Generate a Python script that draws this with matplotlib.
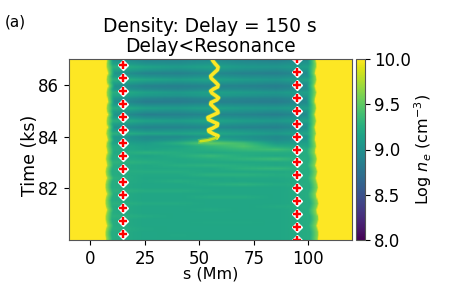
import numpy as np
import matplotlib
matplotlib.use("Agg")
import matplotlib.pyplot as plt

TITLE = "Density: Delay = 150 s\nDelay<Resonance"
XLABEL = "s (Mm)"
YLABEL = "Time (ks)"
CBAR_LABEL = r"Log $n_e$ (cm$^{-3}$)"
PANEL = "(a)"

column_s = [12, 25, 40, 55, 70, 85, 95]
row_time = [87 - 0.125 * i for i in range(57)]
density = [
    [9.05, 8.92, 8.92, 8.98, 8.92, 8.88, 8.98],
    [9.15, 9.02, 9.00, 9.06, 9.00, 8.98, 9.06],
    [9.28, 9.16, 9.10, 9.16, 9.08, 9.05, 9.14],
    [9.18, 9.06, 9.00, 9.06, 9.00, 8.96, 9.06],
    [9.04, 8.90, 8.88, 8.94, 8.88, 8.86, 8.96],
    [9.14, 9.02, 8.98, 9.04, 8.98, 8.96, 9.04],
    [9.28, 9.18, 9.12, 9.16, 9.10, 9.06, 9.16],
    [9.16, 9.04, 9.00, 9.04, 9.00, 8.96, 9.04],
    [9.02, 8.88, 8.86, 8.90, 8.88, 8.85, 8.95],
    [9.08, 8.96, 8.92, 8.98, 8.96, 8.92, 9.00],
    [9.26, 9.14, 9.08, 9.14, 9.10, 9.06, 9.14],
    [9.20, 9.08, 9.04, 9.10, 9.04, 9.00, 9.08],
    [9.06, 8.92, 8.88, 8.94, 8.90, 8.88, 8.98],
    [9.00, 8.84, 8.84, 8.88, 8.86, 8.84, 8.94],
    [9.12, 8.98, 8.98, 9.02, 8.98, 8.96, 9.04],
    [9.26, 9.14, 9.10, 9.16, 9.10, 9.08, 9.14],
    [9.14, 9.00, 8.98, 9.04, 9.00, 8.96, 9.04],
    [9.02, 8.86, 8.88, 8.92, 8.90, 8.86, 8.96],
    [9.14, 9.00, 8.98, 9.04, 9.00, 8.98, 9.06],
    [9.28, 9.16, 9.12, 9.18, 9.12, 9.08, 9.16],
    [9.14, 9.02, 9.00, 9.06, 9.00, 8.96, 9.04],
    [9.02, 8.90, 8.90, 8.94, 8.90, 8.88, 8.98],
    [9.14, 9.02, 9.04, 9.08, 9.04, 9.00, 9.08],
    [9.28, 9.18, 9.16, 9.20, 9.14, 9.08, 9.18],
    [9.10, 8.96, 8.96, 9.06, 9.02, 8.94, 9.04],
    [9.12, 9.00, 9.06, 9.22, 9.08, 8.98, 9.06],
    [9.16, 9.10, 9.26, 9.52, 9.38, 9.08, 9.14],
    [9.24, 9.14, 9.16, 9.32, 9.44, 9.22, 9.18],
    [9.24, 9.16, 9.20, 9.26, 9.34, 9.38, 9.24],
    [9.20, 9.28, 9.24, 9.20, 9.24, 9.24, 9.24],
    [9.24, 9.16, 9.24, 9.34, 9.24, 9.20, 9.24],
    [9.24, 9.20, 9.20, 9.24, 9.30, 9.36, 9.24],
    [9.30, 9.26, 9.20, 9.20, 9.20, 9.20, 9.24],
    [9.24, 9.20, 9.25, 9.28, 9.24, 9.20, 9.24],
    [9.24, 9.20, 9.20, 9.20, 9.28, 9.32, 9.24],
    [9.24, 9.24, 9.24, 9.20, 9.20, 9.20, 9.24],
    [9.24, 9.20, 9.20, 9.28, 9.28, 9.24, 9.24],
    [9.28, 9.18, 9.18, 9.18, 9.20, 9.20, 9.24],
    [9.24, 9.20, 9.24, 9.20, 9.18, 9.18, 9.24],
    [9.24, 9.18, 9.18, 9.24, 9.28, 9.22, 9.24],
    [9.24, 9.18, 9.18, 9.18, 9.18, 9.18, 9.24],
    [9.28, 9.24, 9.24, 9.20, 9.18, 9.18, 9.24],
    [9.24, 9.18, 9.18, 9.18, 9.18, 9.18, 9.24],
    [9.24, 9.18, 9.18, 9.24, 9.24, 9.18, 9.24],
    [9.24, 9.18, 9.18, 9.18, 9.18, 9.18, 9.24],
    [9.28, 9.22, 9.22, 9.18, 9.18, 9.18, 9.24],
    [9.24, 9.18, 9.18, 9.18, 9.18, 9.22, 9.24],
    [9.24, 9.18, 9.18, 9.22, 9.18, 9.18, 9.24],
    [9.24, 9.18, 9.18, 9.18, 9.18, 9.18, 9.24],
    [9.28, 9.22, 9.18, 9.18, 9.18, 9.18, 9.24],
    [9.24, 9.18, 9.18, 9.18, 9.18, 9.18, 9.24],
    [9.24, 9.18, 9.18, 9.20, 9.20, 9.18, 9.24],
    [9.24, 9.18, 9.18, 9.18, 9.18, 9.18, 9.24],
    [9.26, 9.20, 9.18, 9.18, 9.18, 9.18, 9.24],
    [9.24, 9.18, 9.18, 9.18, 9.18, 9.18, 9.24],
    [9.24, 9.18, 9.20, 9.18, 9.18, 9.18, 9.24],
    [9.24, 9.18, 9.18, 9.18, 9.18, 9.18, 9.24],
]
left_edge = [7.2, 7.0, 7.0, 7.4, 7.8, 7.2, 7.0, 7.2, 7.9, 7.3, 7.0, 7.1, 7.5, 7.8, 7.2, 7.0, 7.2, 7.8, 7.2, 7.0,
             7.1, 7.7, 7.1, 6.9, 7.3, 7.6, 7.0, 6.9, 7.2, 7.4, 6.9, 6.7, 7.0, 7.3, 6.8, 6.6, 6.8, 7.3, 6.8, 6.5,
             6.5, 6.8, 7.3, 6.8, 6.5, 6.5, 6.8, 7.3, 6.9, 6.6, 6.6, 6.9, 7.3, 6.8, 6.5, 6.5, 6.8]
right_edge = [103.5, 103.8, 103.8, 103.4, 103.1, 103.6, 103.8, 103.5, 103.0, 103.4, 103.8, 103.5, 103.1, 103.0, 103.5, 103.7, 103.4, 103.0, 103.4, 103.7,
              103.4, 103.0, 103.3, 103.6, 103.2, 103.1, 103.5, 103.7, 103.3, 103.2, 103.7, 104.0, 103.7, 103.3, 103.8, 104.2, 103.9, 103.5, 103.9, 104.3,
              104.5, 104.1, 103.6, 103.8, 104.4, 104.7, 104.3, 103.8, 104.0, 104.6, 104.7, 104.3, 103.9, 104.3, 104.7, 104.7, 104.5]

filament_s = [55.8, 56.2, 57.2, 58.6, 58.3, 56.6, 55.2, 55.4, 57.2, 58.6, 58.4, 56.5, 55.2, 55.8, 57.5, 58.8, 58.0,
              55.4, 55.2, 56.8, 58.4, 58.6, 56.0, 53.9, 54.2, 56.4, 58.4, 58.2, 56.0, 54.2, 54.4, 56.6, 58.6, 58.0, 54.0, 50.5]
filament_t = [87.0, 86.93, 86.82, 86.69, 86.58, 86.45, 86.34, 86.26, 86.12, 86.0, 85.92, 85.84, 85.76, 85.68, 85.58, 85.5, 85.42,
              85.32, 85.25, 85.12, 84.99, 84.92, 84.82, 84.74, 84.66, 84.57, 84.5, 84.42, 84.32, 84.26, 84.2, 84.1, 84.03, 83.96, 83.86, 83.82]

marker_left_t = [80.25 + 0.5 * i for i in range(14)]
marker_right_t = [80.0 + 0.5 * i for i in range(15)]
marker_left_s = 15
marker_right_s = 95

s_fine = np.arange(-10, 120.25, 0.25)
rows = []
for values, lo, hi in zip(density, left_edge, right_edge):
    knots = [-10, lo - 0.4, lo + 0.2, lo + 3.0] + column_s[1:-1] + [hi - 4.2, hi - 0.6, hi, 120]
    vals = [10.6, 10.6, 9.7, values[0]] + values[1:-1] + [values[-1], 9.65, 10.6, 10.6]
    rows.append(np.interp(s_fine, knots, vals))
image = np.array(rows)

fig = plt.figure(figsize=(4.5, 3.0), dpi=100)
ax = fig.add_axes([68.5 / 450, 1 - 240 / 300, (352 - 68.5) / 450, 181 / 300])
cax = fig.add_axes([355.5 / 450, 1 - 240 / 300, 9 / 450, 181 / 300])

im = ax.imshow(image, extent=[-10, 120, 80, 87], origin="upper", aspect="auto",
               cmap="viridis", vmin=8, vmax=10, interpolation="bilinear")
ax.plot(filament_s, filament_t, color="#b5de2b", lw=3.6, alpha=0.35, solid_joinstyle="round")
ax.plot(filament_s[:-2], filament_t[:-2], color="#fde725", lw=2.5, solid_joinstyle="round")
ax.plot(filament_s[-3:], filament_t[-3:], color="#c8e020", lw=1.8, solid_capstyle="round")

for xs, ts in ((marker_left_s, marker_left_t), (marker_right_s, marker_right_t)):
    ax.plot([xs] * len(ts), ts, ls="none", marker="D", ms=5.3, mfc="white", mec="white",
            alpha=0.95, clip_on=True)
    ax.plot([xs] * len(ts), ts, ls="none", marker="+", ms=5.2, mew=1.7, color="red", clip_on=True)

ax.set_xlim(-10, 120)
ax.set_ylim(80, 87)
ax.set_xticks([0, 25, 50, 75, 100])
ax.set_yticks([82, 84, 86])
ax.tick_params(labelsize=12)
ax.set_xlabel(XLABEL, fontsize=11.5, labelpad=-1)
ax.set_ylabel(YLABEL, fontsize=12.5, labelpad=-1, y=0.47)
ax.set_title(TITLE, fontsize=13.4, linespacing=1.08, pad=5)
for sp in ax.spines.values():
    sp.set_color("#555555")

cb = fig.colorbar(im, cax=cax, ticks=[8, 8.5, 9, 9.5, 10])
cb.ax.set_yticklabels(["8.0", "8.5", "9.0", "9.5", "10.0"])
cb.ax.tick_params(labelsize=12)
cb.set_label(CBAR_LABEL, fontsize=11.5, labelpad=1)
cb.outline.set_edgecolor("#555555")

fig.text(5 / 450, 1 - 22 / 300, PANEL, fontsize=11, va="center", ha="left")
fig.savefig("out.png", dpi=100)
